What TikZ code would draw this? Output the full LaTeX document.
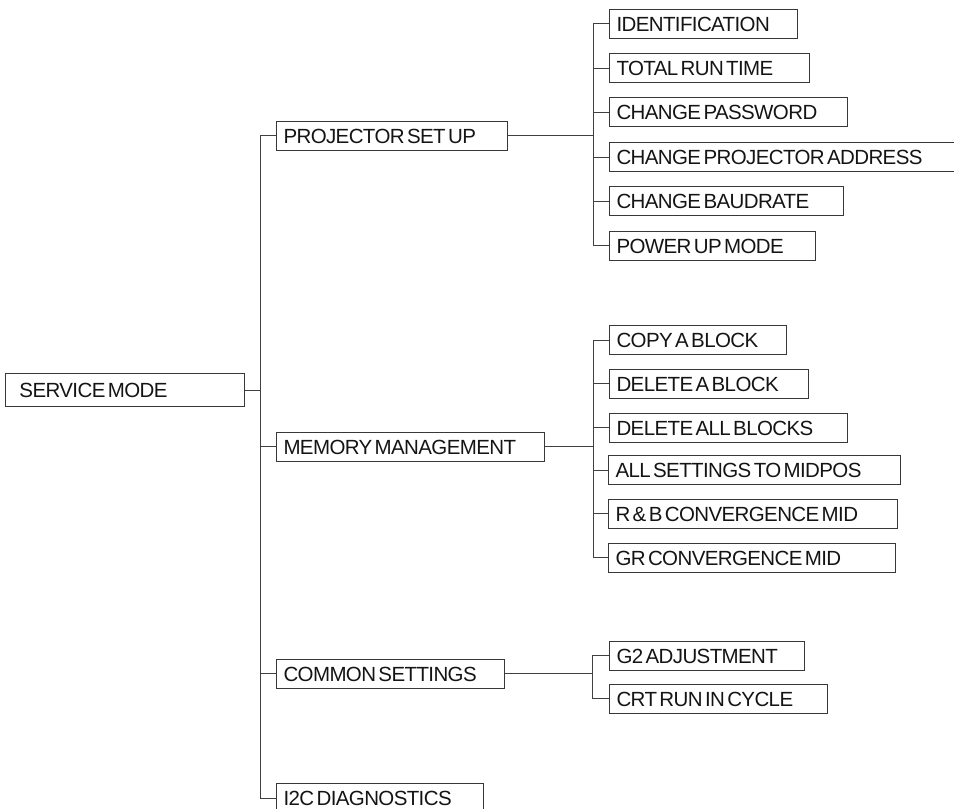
\documentclass[tikz,border=0pt]{standalone}
\usepackage{fontspec}
\setmainfont{Liberation Sans}[LetterSpace=-3]
\newcommand{\boxfont}{\fontsize{20.5}{23}\selectfont}
\begin{document}
\begin{tikzpicture}[x=1pt,y=-1pt,
  every node/.style={font=\boxfont, text=black!92, execute at begin node={\spaceskip=2.4pt plus 0.5pt\relax\xspaceskip=\spaceskip}},
  mbox/.style={draw=black!78, line width=1pt, anchor=west, inner xsep=7pt, inner ysep=0pt,
    minimum height=29pt, align=left, text width=#1pt, text depth=0pt, text height=15pt},
  link/.style={draw=black!75, line width=0.9pt}]
\useasboundingbox (0,0) rectangle (954,809);
% root
\node[mbox=211, inner xsep=14pt, minimum height=33pt] (sm) at (5,390) {SERVICE MODE};
% level 1
\node[mbox=217] (ps)  at (276,135.5) {PROJECTOR SET UP};
\node[mbox=254] (mm)  at (276,446.5) {MEMORY MANAGEMENT};
\node[mbox=214] (cs)  at (276,673.5) {COMMON SETTINGS};
\node[mbox=193] (i2c) at (276,798) {I2C DIAGNOSTICS};
% projector set up children
\node[mbox=174] (p1) at (609,23.5)  {IDENTIFICATION};
\node[mbox=186] (p2) at (609,68)    {TOTAL RUN TIME};
\node[mbox=224] (p3) at (609,112)   {CHANGE PASSWORD};
\node[mbox=337] (p4) at (609,157)   {CHANGE PROJECTOR ADDRESS};
\node[mbox=220] (p5) at (609,201)   {CHANGE BAUDRATE};
\node[mbox=192] (p6) at (609,245.5) {POWER UP MODE};
% memory management children
\node[mbox=163] (m1) at (609,340)   {COPY A BLOCK};
\node[mbox=185] (m2) at (609,383.5) {DELETE A BLOCK};
\node[mbox=224] (m3) at (609,427.5) {DELETE ALL BLOCKS};
\node[mbox=278] (m4) at (608,470)   {ALL SETTINGS TO MIDPOS};
\node[mbox=275] (m5) at (608,513.5) {R \& B CONVERGENCE MID};
\node[mbox=273] (m6) at (608,557.5) {GR CONVERGENCE MID};
% common settings children
\node[mbox=181] (c1) at (609,655.5) {G2 ADJUSTMENT};
\node[mbox=204] (c2) at (609,698.5) {CRT RUN IN CYCLE};
% bus coordinates
\coordinate (trunk) at (260,390);
\coordinate (psbus) at (593,135.5);
\coordinate (mmbus) at (593,446.5);
\coordinate (csbus) at (592,673.5);
% connectors
\draw[link] (sm.east) -- (trunk);
\foreach \n in {ps,mm,cs,i2c} \draw[link] (\n.west) -| (trunk);
\draw[link] (ps.east) -- (psbus);
\foreach \n in {p1,p2,p3,p4,p5,p6} \draw[link] (\n.west) -| (psbus);
\draw[link] (mm.east) -- (mmbus);
\foreach \n in {m1,m2,m3,m4,m5,m6} \draw[link] (\n.west) -| (mmbus);
\draw[link] (cs.east) -- (csbus);
\foreach \n in {c1,c2} \draw[link] (\n.west) -| (csbus);
\end{tikzpicture}
\end{document}
